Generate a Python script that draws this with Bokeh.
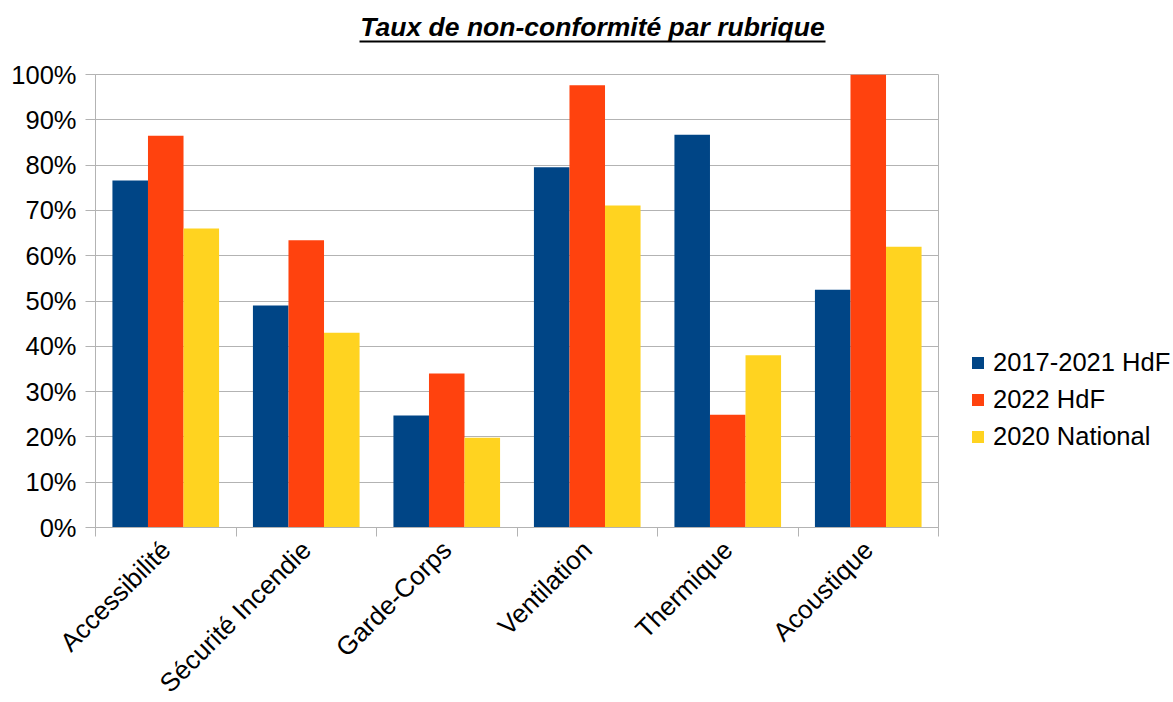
import math
from bokeh.plotting import figure
from bokeh.layouts import column
from bokeh.models import (ColumnDataSource, Range1d, FixedTicker, NumeralTickFormatter,
                          Legend, LegendItem)
from bokeh.core.properties import value
from bokeh.transform import dodge
from bokeh.embed import file_html
from bokeh.resources import INLINE

categories = ["Accessibilité", "Sécurité Incendie", "Garde-Corps", "Ventilation", "Thermique", "Acoustique"]
series_names = ["2017-2021 HdF", "2022 HdF", "2020 National"]
hdf_2017_2021 = [0.766, 0.490, 0.247, 0.795, 0.867, 0.525]
hdf_2022 = [0.865, 0.634, 0.340, 0.976, 0.249, 1.000]
national_2020 = [0.660, 0.430, 0.198, 0.711, 0.380, 0.620]
colors = ["#004586", "#ff420e", "#ffd320"]
title_text = "Taux de non-conformité par rubrique"

FONT = "Liberation Sans"
GRID = "#b3b3b3"
LEFT, FRAME_W, RIGHT = 95, 843, 235
TITLE_H = 60

# ---- title strip (text + underline); frame aligned with the main frame ----
t = figure(frame_width=FRAME_W, frame_height=TITLE_H,
           x_range=Range1d(LEFT, LEFT + FRAME_W), y_range=Range1d(0, TITLE_H),
           x_axis_type=None, y_axis_type=None, output_backend="svg", toolbar_location=None,
           min_border_left=LEFT, min_border_right=RIGHT, min_border_top=0, min_border_bottom=0)
t.outline_line_color = None
t.grid.grid_line_color = None
t.text(x=[592], y=[TITLE_H - 26], text=[title_text], text_align="center", text_baseline="alphabetic",
       text_font=value(FONT), text_font_style="bold italic", text_font_size="26.5px", text_color="black")
t.segment(x0=[359], x1=[825], y0=[TITLE_H - 41], y1=[TITLE_H - 41], line_color="black", line_width=2)

# ---- main chart ----
xc = [i + 0.5 for i in range(len(categories))]
source = ColumnDataSource(dict(xc=xc, a=hdf_2017_2021, b=hdf_2022, c=national_2020))

p = figure(frame_width=FRAME_W, frame_height=453, output_backend="svg", toolbar_location=None,
           x_range=Range1d(0, len(categories)), y_range=Range1d(0, 1),
           min_border_left=LEFT, min_border_top=14, min_border_right=0, min_border_bottom=0)
p.outline_line_color = GRID

bw = 0.253
renderers = []
for field, off, col in zip(["a", "b", "c"], [-bw, 0, bw], colors):
    r = p.vbar(x=dodge("xc", off, range=p.x_range), top=field, width=bw, source=source,
               fill_color=col, line_color=None)
    renderers.append(r)

xa = p.xaxis[0]
xa.ticker = FixedTicker(ticks=xc, minor_ticks=list(range(len(categories) + 1)))
xa.major_label_overrides = {x: c for x, c in zip(xc, categories)}
xa.major_tick_out = 0
xa.major_tick_in = 0
xa.minor_tick_out = 9
xa.minor_tick_in = 0
xa.minor_tick_line_color = GRID
xa.axis_line_color = GRID
xa.major_label_orientation = math.pi / 4
xa.major_label_text_font = FONT
xa.major_label_text_font_size = "26px"
xa.major_label_text_color = "black"
xa.major_label_standoff = 9

ya = p.yaxis[0]
ya.ticker = FixedTicker(ticks=[i / 10 for i in range(11)], minor_ticks=[])
ya.formatter = NumeralTickFormatter(format="0%")
ya.major_tick_out = 10
ya.major_tick_in = 0
ya.major_tick_line_color = GRID
ya.axis_line_color = GRID
ya.major_label_text_font = FONT
ya.major_label_text_font_size = "25.5px"
ya.major_label_text_color = "black"
ya.major_label_standoff = 9

p.xgrid.grid_line_color = None
p.ygrid.grid_line_color = GRID

legend = Legend(items=[LegendItem(label=n, renderers=[r]) for n, r in zip(series_names, renderers)],
                location=(32, 76), glyph_width=15, glyph_height=15, label_standoff=8,
                spacing=8, padding=0, margin=0, border_line_color=None,
                label_text_font=FONT, label_text_font_size="25.5px", label_text_color="black")
p.add_layout(legend, "right")

layout = column(t, p, spacing=0)
open("out.html", "w").write(file_html(layout, INLINE))
